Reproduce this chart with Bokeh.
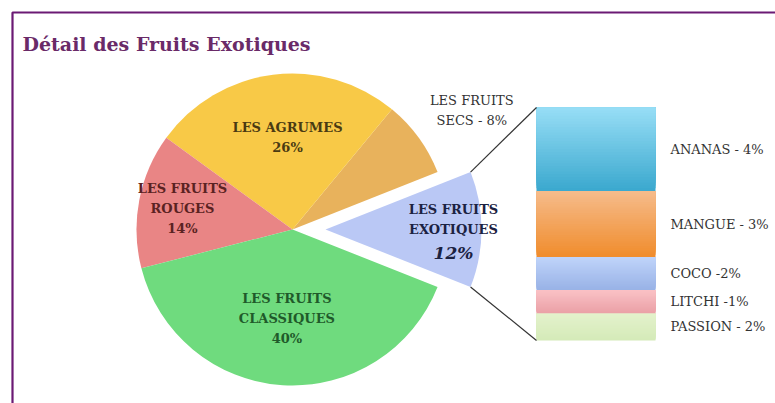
import math
from bokeh.plotting import figure
from bokeh.models import Range1d
from bokeh.core.properties import value
from bokeh.embed import file_html
from bokeh.resources import INLINE

# ---------------- data ----------------
pie_labels = ["LES FRUITS EXOTIQUES", "LES FRUITS SECS", "LES AGRUMES", "LES FRUITS ROUGES", "LES FRUITS CLASSIQUES"]
pie_values = [12, 8, 26, 14, 40]
pie_text = [["LES FRUITS", "EXOTIQUES", "12%"],
            ["LES FRUITS", "SECS - 8%"],
            ["LES AGRUMES", "26%"],
            ["LES FRUITS", "ROUGES", "14%"],
            ["LES FRUITS", "CLASSIQUES", "40%"]]

bar_labels = ["ANANAS - 4%", "MANGUE - 3%", "COCO -2%", "LITCHI -1%", "PASSION - 2%"]
bar_values = [4.3, 3.4, 1.7, 1.2, 1.4]

title_text = "Détail des Fruits Exotiques"

# ---------------- styles / layout ----------------
W, H = 775, 403
pie_colors = ["#bac8f5", "#e8b25c", "#f8c947", "#e98585", "#6fdb7e"]
pie_text_colors = ["#1b2242", "#333333", "#4a3a12", "#5a2222", "#1f5a2a"]
label_dist = [128, 215, 92, 112, 89]
label_angle_adj = [0, -2.5, -4.1, 0, 0]
bar_top_colors = [(152, 222, 246), (246, 188, 140), (192, 212, 250), (250, 194, 198), (228, 242, 204)]
bar_bot_colors = [(58, 168, 206), (240, 140, 44), (152, 178, 230), (234, 160, 166), (212, 234, 184)]
serif = "DejaVu Serif"

cx, cy, R = 292, 174, 156
explode = 33
start_deg = -pie_values[0] / sum(pie_values) * 360 / 2

bar_left, bar_right = 536, 655
bar_bottom_px, bar_top_px = 63, 296

p = figure(width=W, height=H, output_backend="svg", toolbar_location=None,
           x_range=Range1d(0, W), y_range=Range1d(0, H), min_border=0)
p.axis.visible = False
p.grid.visible = False
p.outline_line_color = None
p.background_fill_color = "white"
p.border_fill_color = "white"

total = sum(pie_values)
k = sum(bar_values) / (bar_top_px - bar_bottom_px)
p.extra_y_ranges = {"bar": Range1d(-bar_bottom_px * k, (H - bar_bottom_px) * k)}

def bar_px(v):
    return bar_bottom_px + v / k

# ---------------- pie ----------------
ang = start_deg
exo_edges = None
for i, (v, c) in enumerate(zip(pie_values, pie_colors)):
    a0 = ang
    a1 = ang + v / total * 360
    mid = math.radians((a0 + a1) / 2)
    ox = explode * math.cos(mid) if i == 0 else 0
    oy = explode * math.sin(mid) if i == 0 else 0
    x0, y0 = cx + ox, cy + oy
    p.wedge(x=[x0], y=[y0], radius=R, radius_units="screen",
            start_angle=[math.radians(a0)], end_angle=[math.radians(a1)],
            fill_color=c, line_color=None)
    if i == 0:
        exo_edges = ((x0 + R * math.cos(math.radians(a1)), y0 + R * math.sin(math.radians(a1))),
                     (x0 + R * math.cos(math.radians(a0)), y0 + R * math.sin(math.radians(a0))))
    la = mid + math.radians(label_angle_adj[i])
    lx = x0 + label_dist[i] * math.cos(la)
    ly = y0 + label_dist[i] * math.sin(la)
    lines = pie_text[i]
    n = len(lines)
    for j, t in enumerate(lines):
        dy = ((n - 1) / 2 - j) * 20
        style = "bold"
        size = "13px"
        if i == 1:
            style = "normal"
        if i == 0 and j == 2:
            style = "bold italic"
            size = "17px"
            dy -= 3
        p.text(x=[lx], y=[ly + dy], text=[t], text_font=value(serif), text_font_size=size,
               text_font_style=style, text_color=pie_text_colors[i],
               text_align="center", text_baseline="middle")
    ang = a1

# ---------------- bar of pie (stacked from bottom: last item at bottom) ----------------
N = 30
cum = 0.0
for idx in list(range(len(bar_values)))[::-1]:
    v = bar_values[idx]
    tc, bc = bar_top_colors[idx], bar_bot_colors[idx]
    bots, tops, cols = [], [], []
    for s in range(N):
        f = (s + 0.5) / N
        col = tuple(int(round(bc[m] + (tc[m] - bc[m]) * f)) for m in range(3))
        bots.append(cum + v * s / N)
        tops.append(cum + v)
        cols.append("#%02x%02x%02x" % col)
    p.quad(left=bar_left, right=bar_right, bottom=bots, top=tops, fill_color=cols,
           line_color=None, y_range_name="bar")
    p.text(x=[bar_right + 15], y=[cum + v / 2], text=[bar_labels[idx]], text_font=value(serif),
           text_font_size="13px", text_color="#333333", text_align="left",
           text_baseline="middle", y_range_name="bar")
    cum += v

# connector lines
(tx, ty), (bx, by) = exo_edges
p.line(x=[tx, bar_left], y=[ty, bar_px(sum(bar_values))], line_color="#333333", line_width=1.2)
p.line(x=[bx, bar_left], y=[by, bar_px(0)], line_color="#333333", line_width=1.2)

# ---------------- frame & title ----------------
p.line(x=[12, 12, W + 10], y=[-10, H - 12, H - 12], line_color="#6b1a74", line_width=2.2)
p.text(x=[22], y=[H - 43], text=[title_text], text_font=value(serif), text_font_size="19px",
       text_font_style="bold", text_color="#6a2a68", text_align="left", text_baseline="alphabetic")

open("out.html", "w").write(file_html(p, INLINE))
